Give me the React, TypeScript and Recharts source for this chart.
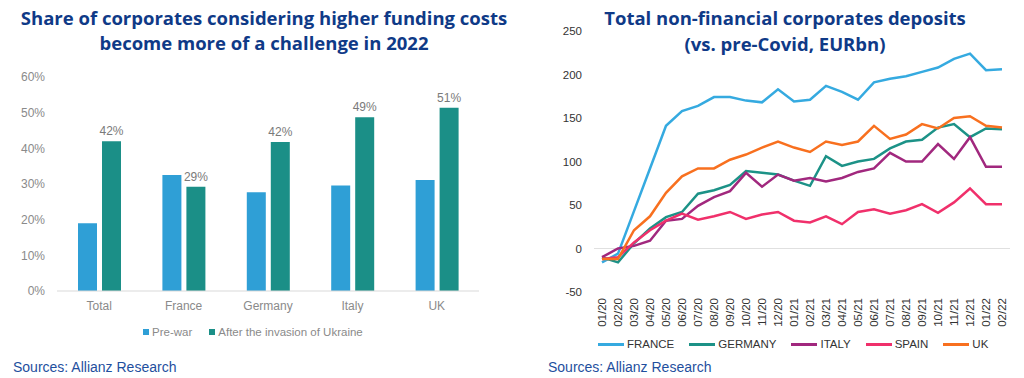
import React from 'react';
import {
  BarChart, Bar, XAxis, YAxis, LabelList, LineChart, Line, ReferenceLine,
} from 'recharts';

const categories = ['Total', 'France', 'Germany', 'Italy', 'UK'];
const preWar = [19, 32.5, 27.7, 29.6, 31.1];
const afterInvasion = [42, 29.2, 41.8, 48.7, 51.4];
const pctTicks = [0, 10, 20, 30, 40, 50, 60];

const months = ['01/20', '02/20', '03/20', '04/20', '05/20', '06/20', '07/20', '08/20', '09/20', '10/20', '11/20', '12/20',
  '01/21', '02/21', '03/21', '04/21', '05/21', '06/21', '07/21', '08/21', '09/21', '10/21', '11/21', '12/21', '01/22', '02/22'];
const france = [-16, -6, 43, 92, 141, 158, 164, 174, 174, 170, 168, 183, 169, 171, 187, 180, 171, 191, 195, 198, 203, 208, 218, 224, 205, 206];
const germany = [-10, -16, 6, 23, 36, 42, 63, 67, 73, 89, 87, 85, 78, 72, 106, 95, 100, 103, 115, 123, 125, 139, 143, 128, 138, 137];
const italy = [-10, 0, 3, 9, 32, 34, 49, 59, 66, 87, 71, 85, 78, 81, 77, 81, 88, 92, 110, 100, 100, 120, 103, 128, 94, 94];
const spain = [-12, -10, 7, 21, 32, 40, 33, 37, 42, 34, 39, 42, 32, 30, 37, 28, 42, 45, 40, 44, 51, 41, 53, 69, 51, 51];
const uk = [-12, -12, 21, 37, 64, 83, 92, 92, 102, 108, 116, 123, 116, 111, 123, 119, 123, 141, 126, 131, 143, 138, 150, 152, 141, 139];
const depositTicks = [-50, 0, 50, 100, 150, 200, 250];

const barData = categories.map((c, i) => ({ name: c, pre: preWar[i], after: afterInvasion[i] }));
const lineData = months.map((m, i) => ({
  month: m, FRANCE: france[i], GERMANY: germany[i], ITALY: italy[i], SPAIN: spain[i], UK: uk[i],
}));

const seriesDefs = [
  { key: 'FRANCE', color: '#35aae0' },
  { key: 'GERMANY', color: '#1c9287' },
  { key: 'ITALY', color: '#a1287e' },
  { key: 'SPAIN', color: '#f0306b' },
  { key: 'UK', color: '#f8701f' },
];

const FONT = '"Liberation Sans", Arial, sans-serif';
const TITLE_FONT = '"Open Sans", "Noto Sans", sans-serif';
const TITLE_COLOR = '#0f3a87';
const SOURCE_COLOR = '#1f4f9e';
const PRE_COLOR = '#2f9fd6';
const AFTER_COLOR = '#1b8f87';

const RotatedTick = (props: any) => {
  const { x, y, payload } = props;
  return (
    <text x={x} y={y} transform={`rotate(-90, ${x}, ${y})`} textAnchor="end" dy="0.35em"
      fontSize={11.5} fill="#333" fontFamily={FONT}>
      {payload.value}
    </text>
  );
};

export default function App() {
  return (
    <div style={{ position: 'absolute', left: 0, top: 0, width: 1024, height: 378, background: '#fff', overflow: 'hidden', fontFamily: FONT }}>
      {/* Left title */}
      <div style={{ position: 'absolute', left: 0, top: 5, width: 528, textAlign: 'center', color: TITLE_COLOR, fontFamily: TITLE_FONT, fontWeight: 700, fontSize: 18.5, lineHeight: '25px' }}>
        Share of corporates considering higher funding costs<br />become more of a challenge in 2022
      </div>
      {/* Left chart */}
      <div style={{ position: 'absolute', left: 0, top: 0 }}>
        <BarChart width={520} height={378} data={barData} margin={{ top: 77, right: 41, bottom: 67, left: 7 }} barSize={19} barGap={5}>
          <XAxis dataKey="name" height={20} axisLine={{ stroke: '#d9d9d9' }} tickLine={false} tickMargin={4}
            tick={{ fontSize: 12, fill: '#8a8a8a', fontFamily: FONT }} />
          <YAxis width={50} domain={[0, 60]} ticks={pctTicks} axisLine={false} tickLine={false} tickMargin={6}
            tickFormatter={(v: number) => `${v}%`} tick={{ fontSize: 12, fill: '#8a8a8a', fontFamily: FONT }} />
          <Bar dataKey="pre" fill={PRE_COLOR} isAnimationActive={false} />
          <Bar dataKey="after" fill={AFTER_COLOR} isAnimationActive={false}>
            <LabelList dataKey="after" position="top" offset={6} formatter={(v: any) => `${Math.round(Number(v))}%`}
              style={{ fontSize: 12, fill: '#7a7a7a', fontFamily: FONT }} />
          </Bar>
        </BarChart>
      </div>
      {/* Left legend */}
      <div style={{ position: 'absolute', left: 143, top: 326, display: 'flex', alignItems: 'center', fontSize: 11.5, color: '#8a8a8a', whiteSpace: 'nowrap' }}>
        <span style={{ display: 'inline-block', width: 6, height: 6, background: PRE_COLOR, marginRight: 3 }} />
        <span style={{ marginRight: 17 }}>Pre-war</span>
        <span style={{ display: 'inline-block', width: 6, height: 6, background: AFTER_COLOR, marginRight: 3 }} />
        <span>After the invasion of Ukraine</span>
      </div>
      <div style={{ position: 'absolute', left: 13, top: 359, fontSize: 14, color: SOURCE_COLOR, whiteSpace: 'nowrap' }}>
        Sources: Allianz Research
      </div>

      {/* Right title */}
      <div style={{ position: 'absolute', left: 560, top: 5, width: 450, textAlign: 'center', color: TITLE_COLOR, fontFamily: TITLE_FONT, fontWeight: 700, fontSize: 18.5, lineHeight: '26px' }}>
        Total non-financial corporates deposits<br />(vs. pre-Covid, EURbn)
      </div>
      {/* Right chart */}
      <div style={{ position: 'absolute', left: 540, top: 0 }}>
        <LineChart width={484} height={378} data={lineData} margin={{ top: 31, right: 14, bottom: 46, left: 0 }}>
          <XAxis dataKey="month" height={40} axisLine={false} tickLine={false} tickMargin={0} interval={0}
            padding={{ left: 8, right: 8 }} tick={<RotatedTick />} />
          <YAxis width={54} domain={[-50, 250]} ticks={depositTicks} axisLine={false} tickLine={false} tickMargin={6}
            tick={{ fontSize: 11.5, fill: '#333', fontFamily: FONT }} />
          <ReferenceLine y={0} stroke="#e0e0e0" strokeWidth={1} />
          {seriesDefs.map((s) => (
            <Line key={s.key} type="linear" dataKey={s.key} stroke={s.color} strokeWidth={2.5} dot={false}
              isAnimationActive={false} />
          ))}
        </LineChart>
      </div>
      {/* Right legend */}
      <div style={{ position: 'absolute', left: 598, top: 338, display: 'flex', alignItems: 'center', fontSize: 11.5, color: '#333', whiteSpace: 'nowrap' }}>
        {seriesDefs.map((s) => (
          <span key={s.key} style={{ display: 'inline-flex', alignItems: 'center', marginRight: 15 }}>
            <span style={{ display: 'inline-block', width: 26, height: 3, background: s.color, marginRight: 3 }} />
            <span>{s.key}</span>
          </span>
        ))}
      </div>
      <div style={{ position: 'absolute', left: 548, top: 359, fontSize: 14, color: SOURCE_COLOR, whiteSpace: 'nowrap' }}>
        Sources: Allianz Research
      </div>
    </div>
  );
}
